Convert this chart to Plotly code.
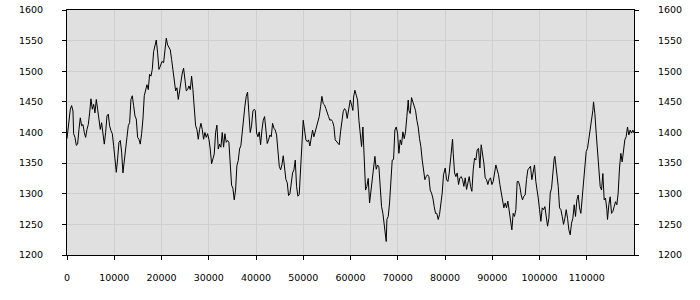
import plotly.graph_objects as go

x_vals = [
    0, 275, 700, 980, 1263, 1404, 1686, 1968, 2250, 2532, 2815, 3097, 3379, 3661, 3943, 4225,
    4507, 4789, 5071, 5354, 5636, 5918, 6200, 6482, 6764, 7046, 7328, 7610, 7893, 8175, 8457,
    8739, 9021, 9303, 9585, 9867, 10149, 10432, 10714, 10996, 11278, 11560, 11842, 12124, 12406,
    12688, 12971, 13253, 13535, 13817, 14099, 14381, 14663, 14945, 15228, 15510, 15792, 16074,
    16356, 16638, 16920, 17202, 17484, 17767, 18049, 18331, 18613, 18895, 19177, 19459,
    19743, 20096, 20448, 20801, 21012, 21294, 21576, 21858, 22140, 22422, 22704, 22986, 23268,
    23550, 23832, 24114, 24396, 24678, 24960, 25242, 25524, 25806, 26088, 26370, 26652, 26934,
    27216, 27498, 27780, 28062, 28344, 28626, 28908, 29190, 29472, 29754, 30036, 30318, 30600,
    30882, 31164, 31446, 31728, 32010, 32292, 32574, 32856, 33138, 33420, 33702, 33984, 34266,
    34548, 34830, 35112, 35394, 35676, 35958, 36240, 36522, 36804, 37086, 37368, 37650, 37932,
    38214, 38496, 38778, 39060, 39342, 39624,
    39844, 40126, 40408, 40690, 40972, 41254, 41536, 41818, 42100, 42382, 42664, 42946, 43228,
    43510, 43792, 44074, 44356, 44638, 44920, 45202, 45484, 45766, 46048, 46330, 46612, 46894,
    47176, 47458, 47740, 48022, 48304, 48586, 48868, 49150, 49432, 49714, 49996, 50278, 50560,
    50842, 51124, 51406, 51688, 51970, 52252, 52534, 52816, 53098, 53380, 53662, 53944, 54226,
    54508, 54790, 55072, 55354, 55636, 55918, 56200, 56482, 56764, 57046, 57328, 57610, 57892,
    58174, 58456, 58738, 59020, 59302, 59584, 59866,
    59946, 60228, 60510, 60651, 60933, 61215, 61497, 61779, 62061, 62343, 62625, 62907, 63189,
    63471, 63753, 64035, 64317, 64599, 64881, 65163, 65445, 65727, 66009, 66291, 66573, 66855,
    67137, 67419, 67560, 67701, 67983, 68265, 68547, 68829, 69111, 69393, 69675, 69957, 70239,
    70521, 70803, 71085, 71367, 71649, 71931, 72213, 72354, 72636, 72918, 73200, 73482, 73764,
    74046, 74328, 74610, 74892, 75174, 75456, 75738, 76020, 76302, 76584, 76866, 77148, 77430,
    77712, 77994, 78276, 78558, 78840, 79122, 79404, 79686, 79968,
    80048, 80330, 80612, 80894, 81176, 81458, 81599, 81740, 82022, 82304, 82586, 82868, 83150,
    83432, 83714, 83996, 84278, 84560, 84842, 85124, 85406, 85688, 85970, 86252, 86534, 86816,
    87098, 87380, 87662, 87944, 88226, 88508, 88790, 89072, 89354, 89636, 89918, 90200, 90482,
    90764, 91046, 91328, 91610, 91892, 92174, 92456, 92738, 93020, 93302, 93584, 93866, 94148,
    94430, 94712, 94994, 95276, 95558, 95840, 96122, 96404, 96686, 96968, 97250, 97532, 97814,
    98096, 98378, 98660, 98942, 99224, 99506,
    99730, 100012, 100294, 100576, 100858, 101140, 101422, 101704, 101986, 102268, 102550,
    102832, 103114, 103255, 103396, 103678, 103960, 104242, 104524, 104806, 105088, 105370,
    105652, 105934, 106216, 106498, 106780, 107062, 107344, 107626, 107908, 108190, 108472,
    108754, 109036, 109318, 109600, 109882, 110164, 110446, 110728, 111010, 111292, 111433,
    111715, 111997, 112279, 112561, 112843, 113125, 113407, 113689, 113971, 114253, 114394,
    114676, 114958, 115240, 115522, 115804, 116086, 116368, 116650, 116932, 117214, 117496,
    117778, 118060, 118342, 118624, 118906, 119188, 119470, 119752, 120000,
]

y_vals = [
    1390, 1411, 1438, 1444, 1435, 1398, 1392, 1379, 1381, 1405, 1424, 1411, 1413, 1400, 1392, 1405,
    1413, 1432, 1455, 1438, 1446, 1432, 1454, 1438, 1416, 1405, 1416, 1400, 1381, 1400, 1427,
    1430, 1411, 1403, 1398, 1379, 1352, 1335, 1357, 1384, 1387, 1368, 1334, 1357, 1370,
    1392, 1411, 1416, 1454, 1460, 1444, 1427, 1422, 1392, 1389, 1381, 1398, 1422,
    1460, 1470, 1478, 1470, 1495, 1492, 1503, 1532, 1540, 1551, 1530, 1503,
    1508, 1516, 1514, 1535, 1554, 1543, 1540, 1535, 1519, 1500, 1481, 1468, 1473,
    1454, 1468, 1484, 1497, 1505, 1481, 1468, 1470, 1476, 1470, 1492, 1470, 1441,
    1411, 1405, 1389, 1405, 1415, 1405, 1389, 1400, 1392, 1398, 1389, 1373, 1349,
    1357, 1365, 1400, 1412, 1373, 1381, 1376, 1400, 1376, 1398, 1384, 1387, 1384,
    1341, 1314, 1309, 1290, 1306, 1346, 1354, 1373, 1379, 1405, 1422, 1443, 1459,
    1466, 1432, 1400, 1411, 1435, 1438,
    1436, 1399, 1393, 1401, 1380, 1404, 1420, 1426, 1399, 1382, 1388, 1396, 1393,
    1415, 1407, 1404, 1396, 1366, 1345, 1339, 1347, 1362, 1342, 1323, 1318, 1297,
    1300, 1323, 1334, 1339, 1355, 1312, 1296, 1299, 1339, 1372, 1420, 1404, 1388,
    1385, 1388, 1378, 1393, 1404, 1393, 1401, 1412, 1418, 1426, 1442, 1459, 1447,
    1445, 1439, 1431, 1426, 1420, 1421, 1418, 1410, 1388, 1385, 1382, 1380, 1401,
    1418, 1434, 1439, 1436, 1423, 1434, 1447,
    1453, 1445, 1436, 1458, 1469, 1461, 1453, 1420, 1393, 1377, 1409, 1350, 1306,
    1312, 1325, 1285, 1306, 1323, 1339, 1361, 1340, 1347, 1344, 1312, 1279, 1268,
    1247, 1230, 1222, 1258, 1263, 1285, 1323, 1355, 1356, 1404, 1409, 1399, 1366,
    1388, 1380, 1401, 1390, 1401, 1426, 1453, 1436, 1431, 1457, 1450, 1442, 1436,
    1420, 1409, 1390, 1377, 1355, 1339, 1323, 1328, 1331, 1328, 1306, 1301, 1293,
    1279, 1268, 1268, 1258, 1266, 1282, 1301, 1331, 1339,
    1342, 1323, 1320, 1334, 1361, 1377, 1389, 1366, 1334, 1328, 1334, 1315, 1326,
    1328, 1323, 1312, 1326, 1307, 1320, 1328, 1312, 1304, 1339, 1358, 1355, 1372,
    1374, 1342, 1380, 1366, 1350, 1326, 1323, 1315, 1323, 1326, 1315, 1320, 1331,
    1347, 1339, 1331, 1315, 1304, 1290, 1277, 1285, 1277, 1288, 1274, 1258, 1241,
    1268, 1263, 1274, 1320, 1320, 1312, 1298, 1290, 1296, 1298, 1323, 1339, 1342,
    1345, 1323, 1334, 1347, 1320, 1307,
    1293, 1274, 1255, 1277, 1274, 1279, 1263, 1247, 1260, 1301, 1309,
    1339, 1358, 1361, 1352, 1328, 1312, 1277, 1274, 1263, 1250, 1260,
    1274, 1260, 1241, 1233, 1252, 1260, 1282, 1263, 1290, 1298, 1277,
    1268, 1295, 1314, 1339, 1369, 1374, 1388, 1404, 1415, 1436, 1450,
    1431, 1399, 1371, 1339, 1312, 1306, 1333, 1290, 1293, 1274, 1258,
    1282, 1295, 1268, 1271, 1279, 1287, 1282, 1301, 1342, 1366, 1352,
    1369, 1388, 1393, 1409, 1396, 1404, 1399, 1404, 1399,
]

x_ticks = [0, 10000, 20000, 30000, 40000, 50000, 60000, 70000, 80000, 90000, 100000, 110000]
y_ticks = [1200, 1250, 1300, 1350, 1400, 1450, 1500, 1550, 1600]
x_range = [0, 120000]
y_range = [1200, 1600]

font = dict(family="DejaVu Sans", size=9.5, color="#000000")

fig = go.Figure()
fig.add_trace(go.Scatter(
    x=x_vals, y=y_vals, mode="lines",
    line=dict(color="#000000", width=1),
    showlegend=False, hoverinfo="skip",
))
# same series bound to the right-hand axis so that axis gets drawn (transparent)
fig.add_trace(go.Scatter(
    x=x_vals, y=y_vals, mode="lines", yaxis="y2",
    line=dict(color="rgba(0,0,0,0)", width=1),
    showlegend=False, hoverinfo="skip",
))

axis_common = dict(
    showline=True, linecolor="#000000", linewidth=1,
    ticks="outside", ticklen=4, tickcolor="#000000", tickwidth=1,
    zeroline=False, tickfont=font, automargin=False,
)

fig.update_layout(
    width=700, height=300,
    margin=dict(l=67, r=66, t=10, b=45, autoexpand=False),
    paper_bgcolor="#ffffff",
    plot_bgcolor="#e0e0e0",
    font=font,
    showlegend=False,
    xaxis=dict(
        range=x_range, tickvals=x_ticks, ticktext=[str(v) for v in x_ticks],
        showgrid=True, gridcolor="#cfcfcf", gridwidth=1, mirror=True,
        ticklabelstandoff=10, **axis_common,
    ),
    yaxis=dict(
        range=y_range, tickvals=y_ticks, ticktext=[str(v) for v in y_ticks],
        showgrid=True, gridcolor="#cfcfcf", gridwidth=1, mirror=True,
        ticklabelstandoff=17, **axis_common,
    ),
    yaxis2=dict(
        range=y_range, tickvals=y_ticks, ticktext=[str(v) for v in y_ticks],
        overlaying="y", side="right", showgrid=False,
        ticklabelstandoff=17, **axis_common,
    ),
)

fig.write_html("out.html")
